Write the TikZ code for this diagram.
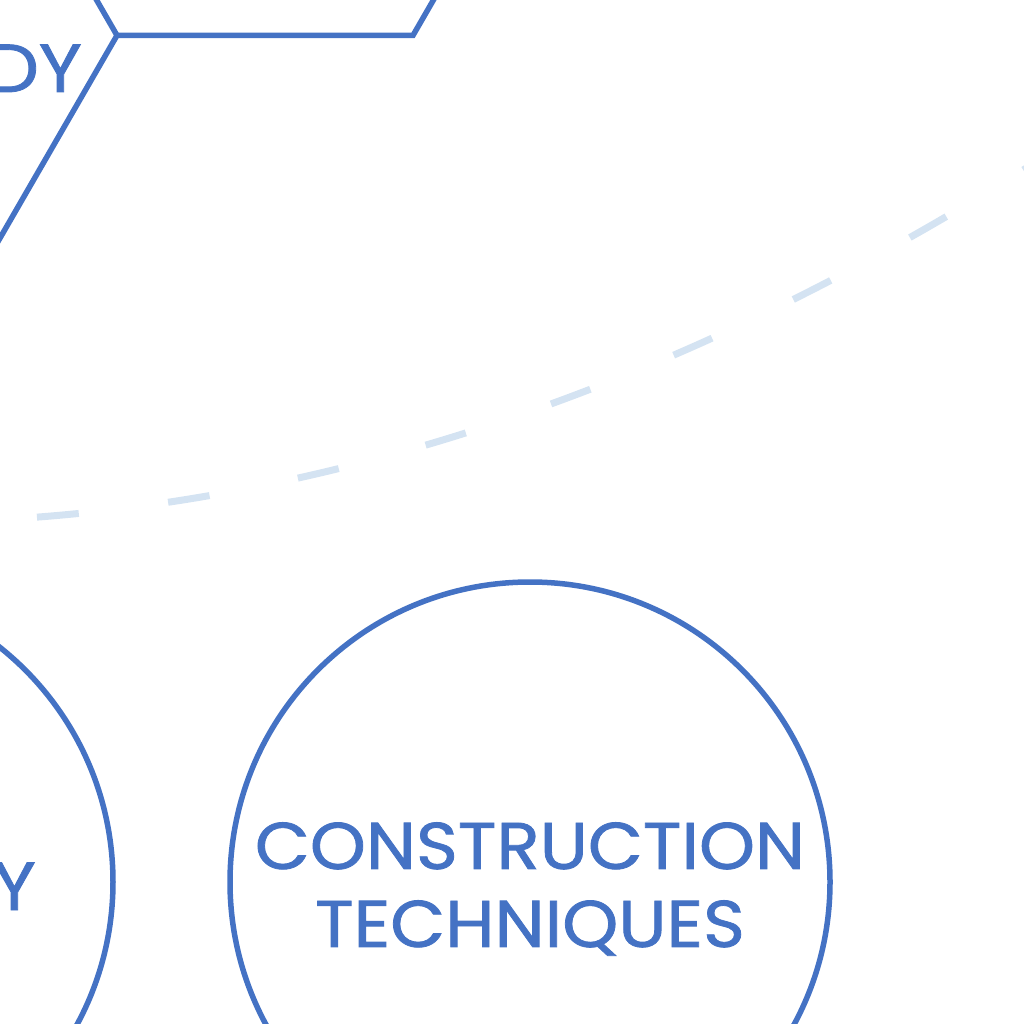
\documentclass[tikz,border=0pt]{standalone}
\usepackage{fontspec}
\setmainfont{Poppins}[FakeStretch=1.08,FakeBold=1.2]
\definecolor{mainblue}{RGB}{68,114,196}
\definecolor{paleblue}{RGB}{212,227,242}
\begin{document}
\begin{tikzpicture}[x=1pt,y=-1pt,
  outline/.style={draw=mainblue,line width=5.5pt,line join=miter},
  topic/.style={circle,outline,minimum size=600pt,inner sep=0pt},
  topictext/.style={inner sep=0pt,align=center,text=mainblue,font=\fontsize{66}{78}\selectfont},
  label/.style={inner sep=0pt,text=mainblue,font=\fontsize{68}{78}\selectfont},
  link/.style={draw=paleblue,line width=7pt,dash pattern=on 42pt off 90pt,dash phase=34pt}]
\useasboundingbox (0,0) rectangle (1024,1024);
\clip (0,0) rectangle (1024,1024);
% honeycomb outlines (top left)
\coordinate (hA) at (117,35.4);
\coordinate (hB) at (413,35.4);
\coordinate (hC) at (561,-221);
\coordinate (hD) at (-31,-221);
\coordinate (hE) at (-31,291.8);
\draw[outline] (hD) -- (hA) -- (hB) -- (hC);
\draw[outline] (hA) -- (hE);
\node[label,anchor=base east] (tl) at (82,92) {DY};
% dashed link
\coordinate (lr) at (1030,165.7);
\coordinate (ll) at (0,519.6);
\draw[link] (lr) .. controls (686.7,382.4) and (343.3,500.3) .. (ll);
% circles
\node[topic] (left) at (-187,882) {};
\node[label,anchor=base east] (ltxt) at (36,910) {Y};
\node[topic] (ct) at (530,882) {};
\node[topictext,yshift=-7pt] (cttext) at (ct.center) {CONSTRUCTION\\TECHNIQUES};
\end{tikzpicture}
\end{document}
